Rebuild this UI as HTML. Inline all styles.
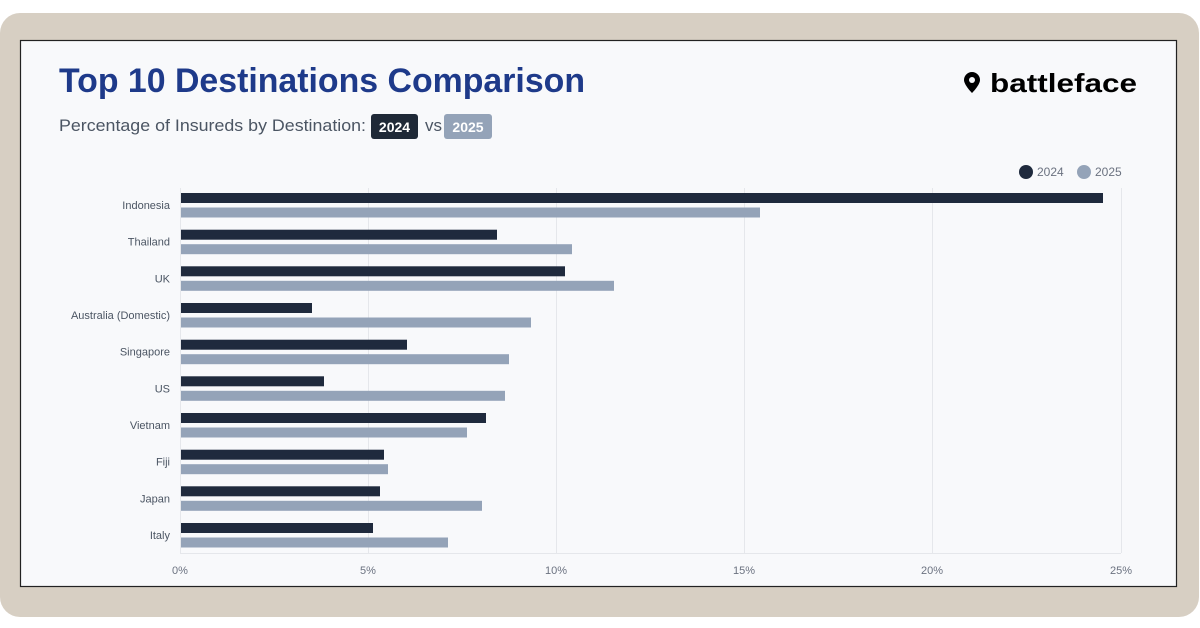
<!DOCTYPE html>
<html><head><meta charset="utf-8"><style>
html,body{margin:0;padding:0;background:#fff;}
svg{display:block;font-family:"Liberation Sans",sans-serif;}
</style></head><body>
<svg width="1200" height="628" viewBox="0 0 1200 628" xmlns="http://www.w3.org/2000/svg">
<rect x="0" y="13" width="1199" height="604" rx="20" fill="#d7cfc3"/>
<rect x="20.5" y="40.5" width="1156" height="546" fill="#f8f9fb" stroke="#222" stroke-width="1.2"/>
<text x="59" y="92" font-size="34" font-weight="bold" fill="#1e3a8a" textLength="526" lengthAdjust="spacingAndGlyphs">Top 10 Destinations Comparison</text>
<text x="59" y="131" font-size="17" fill="#4b5563" textLength="307" lengthAdjust="spacingAndGlyphs">Percentage of Insureds by Destination:</text>
<rect x="371" y="114" width="47" height="25" rx="3" fill="#1f2937"/>
<text x="394.5" y="132" font-size="14" font-weight="bold" fill="#fff" text-anchor="middle">2024</text>
<text x="425" y="131" font-size="17" fill="#4b5563">vs</text>
<rect x="444" y="114" width="48" height="25" rx="3" fill="#94a3b8"/>
<text x="468" y="132" font-size="14" font-weight="bold" fill="#fff" text-anchor="middle">2025</text>
<path d="M972,72 a8,8 0 0 1 8,8 c0,5 -8,13 -8,13 c0,0 -8,-8 -8,-13 a8,8 0 0 1 8,-8z" fill="#000"/>
<circle cx="972" cy="80" r="3" fill="#f8f9fb"/>
<text x="990" y="92" font-size="26" font-weight="bold" fill="#000" textLength="147" lengthAdjust="spacingAndGlyphs">battleface</text>
<circle cx="1026" cy="172" r="7" fill="#1f2a3d"/>
<text x="1037" y="176" font-size="12" fill="#6b7280">2024</text>
<circle cx="1084" cy="172" r="7" fill="#94a3b8"/>
<text x="1095" y="176" font-size="12" fill="#6b7280">2025</text>
<g stroke="#e5e7eb" stroke-width="1">
<line x1="368.5" y1="188" x2="368.5" y2="553"/><line x1="556.5" y1="188" x2="556.5" y2="553"/>
<line x1="744.5" y1="188" x2="744.5" y2="553"/><line x1="932.5" y1="188" x2="932.5" y2="553"/>
<line x1="1121.5" y1="188" x2="1121.5" y2="553"/>
<line x1="180.5" y1="188" x2="180.5" y2="553"/><line x1="180" y1="553.5" x2="1121" y2="553.5"/>
</g>
<g font-size="11" fill="#6b7280" text-anchor="middle">
<text x="180" y="574">0%</text><text x="368" y="574">5%</text><text x="556" y="574">10%</text>
<text x="744" y="574">15%</text><text x="932" y="574">20%</text><text x="1121" y="574">25%</text>
</g>
<g font-size="11" fill="#4b5563" text-anchor="end">
<text x="170" y="209">Indonesia</text><text x="170" y="245.7">Thailand</text><text x="170" y="282.3">UK</text>
<text x="170" y="319">Australia (Domestic)</text><text x="170" y="355.7">Singapore</text><text x="170" y="392.3">US</text>
<text x="170" y="429">Vietnam</text><text x="170" y="465.7">Fiji</text><text x="170" y="502.3">Japan</text><text x="170" y="539">Italy</text>
</g>
<g fill="#1f2a3d">
<rect x="181" y="193" width="922" height="10"/>
<rect x="181" y="229.7" width="316" height="10"/>
<rect x="181" y="266.3" width="384" height="10"/>
<rect x="181" y="303" width="131" height="10"/>
<rect x="181" y="339.7" width="226" height="10"/>
<rect x="181" y="376.3" width="143" height="10"/>
<rect x="181" y="413" width="305" height="10"/>
<rect x="181" y="449.7" width="203" height="10"/>
<rect x="181" y="486.3" width="199" height="10"/>
<rect x="181" y="523" width="192" height="10"/>
</g>
<g fill="#94a3b8">
<rect x="181" y="207.5" width="579" height="10"/>
<rect x="181" y="244.2" width="391" height="10"/>
<rect x="181" y="280.8" width="433" height="10"/>
<rect x="181" y="317.5" width="350" height="10"/>
<rect x="181" y="354.2" width="328" height="10"/>
<rect x="181" y="390.8" width="324" height="10"/>
<rect x="181" y="427.5" width="286" height="10"/>
<rect x="181" y="464.2" width="207" height="10"/>
<rect x="181" y="500.8" width="301" height="10"/>
<rect x="181" y="537.5" width="267" height="10"/>
</g>
</svg>
</body></html>
